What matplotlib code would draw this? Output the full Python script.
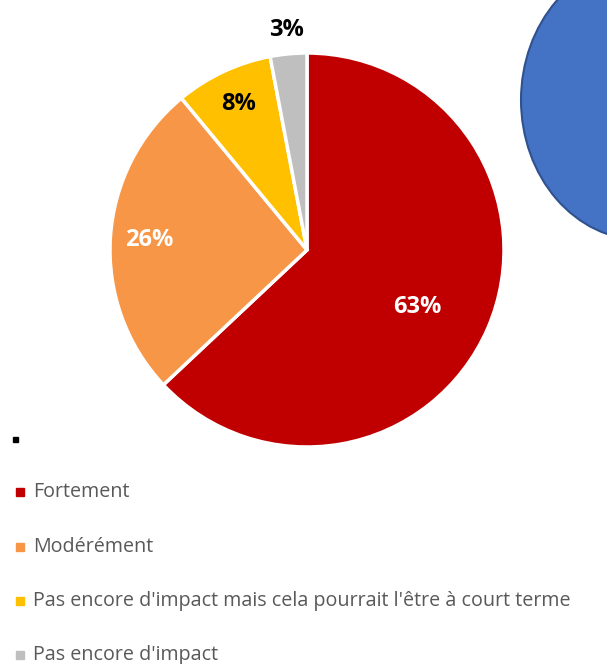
import numpy as np
import matplotlib
matplotlib.use("Agg")
import matplotlib.pyplot as plt
from matplotlib.patches import Ellipse, Rectangle

# data
categories = ["Fortement", "Modérément",
              "Pas encore d'impact mais cela pourrait l'être à court terme",
              "Pas encore d'impact"]
values = [63, 26, 8, 3]
labels = ["63%", "26%", "8%", "3%"]
colors = ["#C00000", "#F79646", "#FFC000", "#BFBFBF"]
label_colors = ["white", "white", "black", "black"]
label_dist = [0.63, 0.80, 0.82, 1.12]
label_shift = [-4, 0, 0, 0]  # degrees, small nudge off the wedge middle

W, H = 607, 664
fig = plt.figure(figsize=(W / 100, H / 100), dpi=100)

# background layer in pixel coords (ellipse shape + small marker)
bg = fig.add_axes([0, 0, 1, 1])
bg.set_xlim(0, W)
bg.set_ylim(H, 0)
bg.axis("off")
bg.add_patch(Ellipse((642, 100), 242, 280, facecolor="#4472C4",
                     edgecolor="#2F528F", linewidth=1.5))
bg.add_patch(Rectangle((13, 437), 5, 5, color="black"))

# pie
cx, cy, r = 307, 250, 197
ax = fig.add_axes([(cx - r) / W, (H - cy - r) / H, 2 * r / W, 2 * r / H])
wedges, _ = ax.pie(values, colors=colors, startangle=90, counterclock=False,
                   wedgeprops=dict(edgecolor="white", linewidth=2.5))
ax.set_aspect("equal")
ax.set_xlim(-1, 1)
ax.set_ylim(-1, 1)

for w, lab, c, d, s in zip(wedges, labels, label_colors, label_dist, label_shift):
    ang = np.deg2rad((w.theta1 + w.theta2) / 2 + s)
    ax.text(d * np.cos(ang), d * np.sin(ang), lab, ha="center", va="center",
            fontsize=17, fontweight="bold", color=c, family="Open Sans")

# legend
leg_y = [492, 547, 601, 655]
for name, col, y in zip(categories, colors, leg_y):
    bg.add_patch(Rectangle((16, y - 4), 8, 8, color=col))
    bg.text(33, y, name, ha="left", va="center", fontsize=14.2,
            color="#595959", family="Open Sans")

fig.savefig("out.png", dpi=100)
